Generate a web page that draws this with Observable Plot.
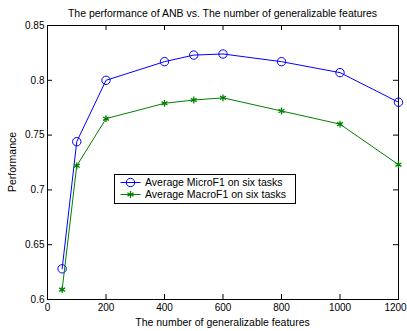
<!DOCTYPE html>
<html><head><meta charset="utf-8">
<script src="https://cdn.jsdelivr.net/npm/d3@7"></script>
<script src="https://cdn.jsdelivr.net/npm/@observablehq/plot@0.6"></script>
<style>
body{margin:0;background:#fff;}
#chart{position:relative;width:407px;height:331px;overflow:hidden;}
svg{font-family:"Liberation Sans",Arial,sans-serif;}
</style></head>
<body><div id="chart"></div>
<script>
const features = [50, 100, 200, 400, 500, 600, 800, 1000, 1200];
const microF1 = [0.628, 0.744, 0.800, 0.817, 0.823, 0.824, 0.817, 0.807, 0.780];
const macroF1 = [0.609, 0.722, 0.765, 0.779, 0.782, 0.784, 0.772, 0.760, 0.723];
const xTicks = [0, 200, 400, 600, 800, 1000, 1200];
const yTicks = [0.6, 0.65, 0.7, 0.75, 0.8, 0.85];
const seriesNames = ["Average MicroF1 on six tasks", "Average MacroF1 on six tasks"];
const colors = ["#0000ff", "#008000"];

const micro = features.map((x, i) => ({x, y: microF1[i]}));
const macro = features.map((x, i) => ({x, y: macroF1[i]}));

const W = 407, H = 331, mL = 47, mR = 9, mT = 25, mB = 32;
const ph = H - mT - mB, pw = W - mL - mR;
const tl = 5;

const plot = Plot.plot({
  width: W, height: H,
  marginLeft: mL, marginRight: mR, marginTop: mT, marginBottom: mB,
  style: {fontSize: "10px", fontFamily: "Liberation Sans, Arial, sans-serif", color: "#000", overflow: "visible"},
  x: {domain: [0, 1200]},
  y: {domain: [0.6, 0.85]},
  marks: [
    Plot.frame({stroke: "#000", strokeWidth: 1}),
    Plot.axisX(xTicks.slice(0, -1), {tickSize: 0, tickPadding: 4, label: null, fontSize: 10, tickFormat: d => String(d)}),
    Plot.axisX(xTicks.slice(-1), {tickSize: 0, tickPadding: 4, label: null, fontSize: 10, tickFormat: d => String(d), dx: -3}),
    Plot.axisY(yTicks, {tickSize: 0, tickPadding: 3, label: null, fontSize: 10, tickFormat: d => String(d)}),
    Plot.tickX(xTicks, {x: d => d, insetTop: ph - tl, stroke: "#000"}),
    Plot.tickX(xTicks, {x: d => d, insetBottom: ph - tl, stroke: "#000"}),
    Plot.tickY(yTicks, {y: d => d, insetRight: pw - tl, stroke: "#000"}),
    Plot.tickY(yTicks, {y: d => d, insetLeft: pw - tl, stroke: "#000"}),
    Plot.line(micro, {x: "x", y: "y", stroke: colors[0], strokeWidth: 1}),
    Plot.dot(micro, {x: "x", y: "y", stroke: colors[0], r: 4.2, strokeWidth: 1, fill: "none"}),
    Plot.line(macro, {x: "x", y: "y", stroke: colors[1], strokeWidth: 1}),
    Plot.dot(macro, {x: "x", y: "y", symbol: "asterisk", stroke: colors[1], r: 3.2, strokeWidth: 1.3})
  ]
});
document.getElementById("chart").appendChild(plot);

const svg = d3.select(plot);
svg.append("text").attr("x", (mL + W - mR) / 2).attr("y", 17).attr("text-anchor", "middle")
  .attr("font-size", 10.5).text("The performance of ANB vs. The number of generalizable features");
svg.append("text").attr("x", (mL + W - mR) / 2).attr("y", 326).attr("text-anchor", "middle")
  .attr("font-size", 10.5).text("The number of generalizable features");
svg.append("text").attr("transform", `translate(16,${mT + ph / 2}) rotate(-90)`).attr("text-anchor", "middle")
  .attr("font-size", 10.5).text("Performance");

// legend
const lg = svg.append("g");
lg.append("rect").attr("x", 114.5).attr("y", 174.5).attr("width", 181).attr("height", 29)
  .attr("fill", "#fff").attr("stroke", "#000");
const rows = [182.5, 194.5];
rows.forEach((cy, i) => {
  lg.append("line").attr("x1", 120.5).attr("x2", 140.5).attr("y1", cy).attr("y2", cy)
    .attr("stroke", colors[i]);
  if (i === 0) {
    lg.append("circle").attr("cx", 130.5).attr("cy", cy).attr("r", 4.2).attr("fill", "none").attr("stroke", colors[i]);
  } else {
    lg.append("path").attr("transform", `translate(130.5,${cy})`).attr("d", d3.symbol(d3.symbolAsterisk, 36)())
      .attr("stroke", colors[i]).attr("stroke-width", 1.3).attr("fill", "none");
  }
  lg.append("text").attr("x", 145).attr("y", cy + 3.6).attr("font-size", 10.5)
    .attr("text-anchor", "start").text(seriesNames[i]);
});
</script></body></html>
